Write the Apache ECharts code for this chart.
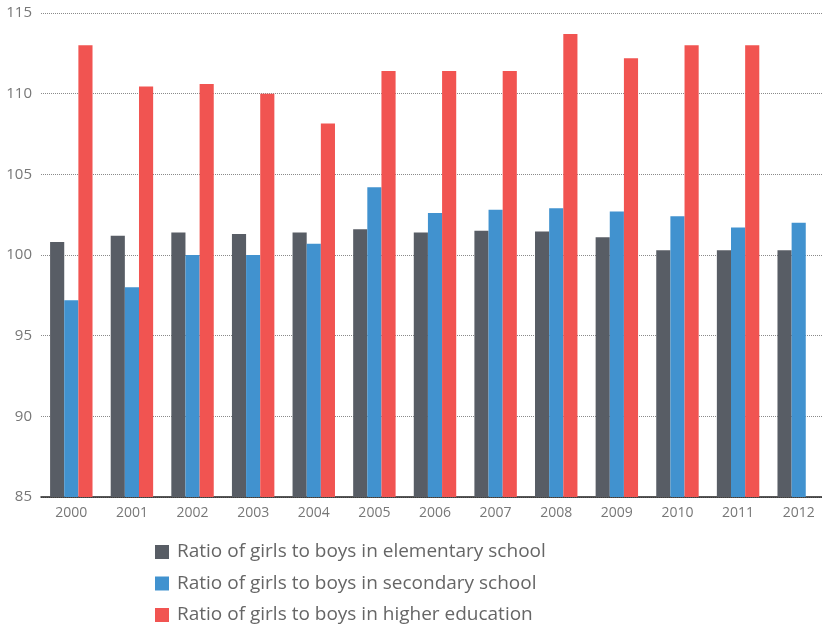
<!DOCTYPE html>
<html>
<head>
<meta charset="utf-8">
<script src="https://cdn.jsdelivr.net/npm/echarts@6/dist/echarts.min.js"></script>
<style>
  html, body { margin: 0; padding: 0; background: #fff; overflow: hidden; }
  /* the plot area runs a few pixels past the right edge of the page */
  #chart { width: 830px; height: 624px; }
</style>
</head>
<body>
<div id="chart"></div>
<script>
// Years on the category axis
const years = ['2000', '2001', '2002', '2003', '2004', '2005', '2006', '2007', '2008', '2009', '2010', '2011', '2012'];

// Ratio of girls to boys (girls per 100 boys)
const elementary = [100.8, 101.2, 101.4, 101.3, 101.4, 101.6, 101.4, 101.5, 101.45, 101.1, 100.3, 100.3, 100.3];
const secondary  = [97.2, 98.0, 100.0, 100.0, 100.7, 104.2, 102.6, 102.8, 102.9, 102.7, 102.4, 101.7, 102.0];
const higher     = [113.0, 110.45, 110.6, 110.0, 108.15, 111.4, 111.4, 111.4, 113.7, 112.2, 113.0, 113.0, null];

const seriesNames = [
  'Ratio of girls to boys in elementary school',
  'Ratio of girls to boys in secondary school',
  'Ratio of girls to boys in higher education'
];

const fontFamily = '"Open Sans", "DejaVu Sans", sans-serif';

const chart = echarts.init(document.getElementById('chart'), null, { renderer: 'canvas' });

chart.setOption({
  animation: false,
  color: ['#585D65', '#4192CF', '#F15451'],
  grid: { left: 41, right: 1, top: 13, height: 484, containLabel: false },
  legend: {
    orient: 'vertical',
    left: 155,
    top: 542,
    height: 120,
    padding: 0,
    itemWidth: 14,
    itemHeight: 14,
    itemGap: 11.5,
    icon: 'rect',
    textStyle: { color: '#666', fontSize: 19, lineHeight: 20, fontFamily: fontFamily, padding: [0, 0, 0, 3] },
    data: seriesNames
  },
  xAxis: {
    type: 'category',
    data: years,
    axisLine: { lineStyle: { color: '#222', width: 1.5 } },
    axisTick: { show: false },
    axisLabel: { color: '#777', fontSize: 14, fontFamily: fontFamily, margin: 9 }
  },
  yAxis: {
    type: 'value',
    min: 85,
    max: 115,
    interval: 5,
    axisLine: { show: false },
    axisTick: { show: false },
    axisLabel: { color: '#777', fontSize: 15, fontFamily: fontFamily, margin: 9 },
    splitLine: { lineStyle: { color: '#8a8a8a', type: [1, 1], width: 1 } }
  },
  series: [
    { name: seriesNames[0], type: 'bar', data: elementary, barGap: '0%', barCategoryGap: '30%' },
    { name: seriesNames[1], type: 'bar', data: secondary, barGap: '0%', barCategoryGap: '30%' },
    { name: seriesNames[2], type: 'bar', data: higher, barGap: '0%', barCategoryGap: '30%' }
  ]
});
</script>
</body>
</html>
